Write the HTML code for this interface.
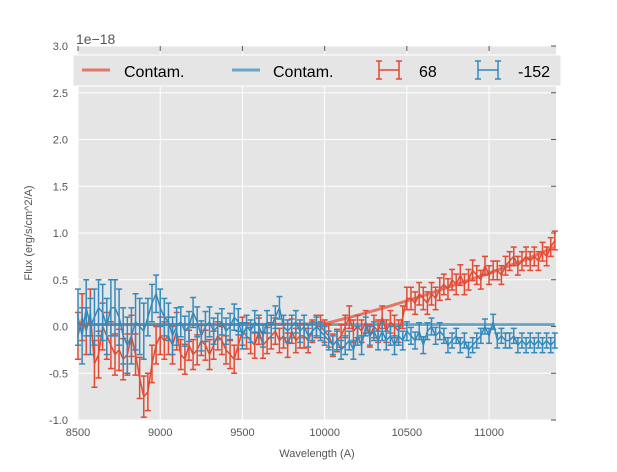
<!DOCTYPE html>
<html><head><meta charset="utf-8"><style>
body{margin:0;background:#fff;font-family:"Liberation Sans",sans-serif}
</style></head><body>
<svg id="c" width="617" height="467" xmlns="http://www.w3.org/2000/svg" font-family="Liberation Sans, sans-serif"></svg>
<script>
const xTicks=[8500,9000,9500,10000,10500,11000];
const yTicks=[-1.0,-0.5,0.0,0.5,1.0,1.5,2.0,2.5,3.0];
const redFlux=[-0.1,0.1,-0.05,0.15,-0.4,-0.3,0.0,-0.1,-0.2,
-0.3,-0.25,-0.35,-0.3,-0.1,-0.3,-0.55,-0.75,
-0.7,-0.4,-0.2,-0.1,-0.15,-0.1,-0.2,-0.05,
-0.3,-0.35,-0.2,-0.3,-0.25,-0.15,-0.2,-0.3,
-0.2,-0.1,-0.15,-0.25,-0.3,-0.35,-0.2,-0.05,
-0.1,-0.15,-0.2,-0.05,-0.2,-0.15,-0.1,-0.05,
-0.15,-0.1,-0.2,-0.05,-0.15,-0.1,-0.1,-0.15,
-0.05,0.0,0.0,-0.05,-0.1,-0.2,-0.15,-0.1,
0.0,0.1,-0.05,0.0,-0.05,0.05,-0.1,0.0,
-0.05,0.1,-0.05,0.05,0.0,-0.05,0.1,0.3,
0.3,0.25,0.35,0.3,0.25,0.35,0.3,0.4,
0.45,0.4,0.5,0.45,0.55,0.45,0.5,0.6,
0.55,0.5,0.65,0.55,0.6,0.6,0.55,0.65,
0.7,0.75,0.65,0.7,0.75,0.7,0.75,0.7,
0.8,0.75,0.85,0.92];
const blueFlux=[0.1,-0.1,0.2,0.0,0.1,0.2,0.15,0.0,0.2,
0.2,0.1,-0.1,-0.2,-0.1,0.05,0.0,-0.05,
0.1,0.25,0.35,0.2,0.1,0.05,-0.1,0.0,
0.05,-0.05,0.0,0.15,0.05,-0.1,0.0,0.05,
-0.05,0.0,0.05,-0.05,0.0,0.1,0.05,-0.1,
0.0,-0.05,0.05,0.0,-0.1,0.05,0.0,0.1,
0.2,0.0,-0.05,0.0,0.05,-0.05,0.0,-0.1,
-0.05,0.0,-0.05,-0.1,-0.15,-0.2,-0.15,-0.25,
-0.2,-0.15,-0.25,-0.1,-0.2,0.0,-0.1,-0.05,
-0.15,-0.05,-0.15,-0.1,-0.2,-0.1,-0.15,-0.05,
-0.1,-0.15,-0.05,-0.2,-0.05,0.0,-0.1,-0.05,
-0.1,-0.2,-0.15,-0.1,-0.2,-0.15,-0.25,-0.2,
-0.15,-0.1,0.0,-0.1,0.05,-0.15,-0.1,-0.15,
-0.15,-0.1,-0.2,-0.15,-0.2,-0.15,-0.2,-0.15,
-0.2,-0.15,-0.2,-0.15];
const redErrBySeg=[0.25,0.22,0.2,0.16,0.15,0.14,0.13,0.12,0.12,0.12,0.12,0.11,0.1,0.1,0.1];
const blueErrBySeg=[0.3,0.3,0.2,0.16,0.14,0.12,0.12,0.1,0.1,0.1,0.09,0.08,0.08,0.08,0.08];
const contamWave=[8500,9000,9500,10000,10200,10400,10600,10800,11000,11200,11400];
const redContam=[0.02,0.02,0.02,0.03,0.12,0.22,0.33,0.45,0.57,0.7,0.85];
const blueContam=[0.02,0.02,0.02,0.02,0.02,0.02,0.02,0.02,0.02,0.02,0.02];
const waveStart=8500, waveStep=25;

const L=78,R=556,T=46,B=420;
const X=w=>L+(w-8500)*(R-L)/2907;
const Y=v=>B-(v+1)*(B-T)/4;
const NS="http://www.w3.org/2000/svg";
const svg=document.getElementById('c');
function mk(t,a,p){const e=document.createElementNS(NS,t);for(const k in a)e.setAttribute(k,a[k]);(p||svg).appendChild(e);return e;}
const bg=mk('rect',{x:L,y:T,width:R-L,height:B-T,fill:'#e5e5e5'});


xTicks.forEach(t=>{const l=mk('line',{x1:X(t),x2:X(t),y1:T,y2:B,stroke:'#fff','stroke-width':1});


const tx=mk('text',{x:X(t),y:B+16,'text-anchor':'middle','font-size':11,fill:'#555'});tx.textContent=t;

});
yTicks.forEach(t=>{const l=mk('line',{x1:L,x2:R,y1:Y(t),y2:Y(t),stroke:'#fff','stroke-width':1});


mk('line',{x1:R-5,x2:R,y1:Y(t),y2:Y(t),stroke:'#555'});
const tx=mk('text',{x:L-10,y:Y(t)+4,'text-anchor':'end','font-size':11,fill:'#555'});tx.textContent=t.toFixed(1);

});
xTicks.forEach(t=>{mk('line',{x1:X(t),x2:X(t),y1:T,y2:T+5,stroke:'#555'});});
function contam(vals,col,name){const p=mk('polyline',{points:contamWave.map((w,i)=>X(w)+','+Y(vals[i])).join(' '),fill:'none',stroke:col,'stroke-width':3,'stroke-opacity':0.7});

}
contam(redContam,'#E24A33','contam-line-68');
contam(blueContam,'#348ABD','contam-line-152');
function series(vals,errs,col,name){const g=mk('g',{});


const pts=[];vals.forEach((v,i)=>{const w=waveStart+i*waveStep;const seg=i<9?0:Math.floor((i-9)/8)+1;const e=errs[Math.min(seg,errs.length-1)];
const x=X(w);pts.push(x+','+Y(v));
mk('line',{x1:x,x2:x,y1:Y(v-e),y2:Y(v+e),stroke:col,'stroke-width':1.5},g);
mk('line',{x1:x-3,x2:x+3,y1:Y(v-e),y2:Y(v-e),stroke:col,'stroke-width':1.5},g);
mk('line',{x1:x-3,x2:x+3,y1:Y(v+e),y2:Y(v+e),stroke:col,'stroke-width':1.5},g);});
mk('polyline',{points:pts.join(' '),fill:'none',stroke:col,'stroke-width':1.5},g);}
series(redFlux,redErrBySeg,'#E24A33','series-68');
series(blueFlux,blueErrBySeg,'#348ABD','series-152');
// legend
const lg=mk('g',{});


mk('rect',{x:73,y:55,width:488,height:31,fill:'#e5e5e5',stroke:'#fff','stroke-width':1},lg);
function lt(x,s){const t=mk('text',{x:x,y:77,'font-size':16,fill:'#000'},lg);t.textContent=s;return t;}
mk('line',{x1:82,x2:110,y1:70,y2:70,stroke:'#E24A33','stroke-width':3,'stroke-opacity':0.7},lg);
lt(124,'Contam.');
mk('line',{x1:232,x2:260,y1:70,y2:70,stroke:'#348ABD','stroke-width':3,'stroke-opacity':0.7},lg);
lt(273,'Contam.');
function ebIcon(x,col){
mk('line',{x1:x+3,x2:x+23,y1:70,y2:70,stroke:col,'stroke-width':1.5},lg);
mk('line',{x1:x+3,x2:x+3,y1:61,y2:79,stroke:col,'stroke-width':1.5},lg);
mk('line',{x1:x+23,x2:x+23,y1:61,y2:79,stroke:col,'stroke-width':1.5},lg);
[x+3,x+23].forEach(cx=>{
mk('line',{x1:cx-3,x2:cx+3,y1:61,y2:61,stroke:col,'stroke-width':1.5},lg);
mk('line',{x1:cx-3,x2:cx+3,y1:79,y2:79,stroke:col,'stroke-width':1.5},lg);});}
ebIcon(376,'#E24A33');lt(419,'68');
ebIcon(475,'#348ABD');lt(518,'-152');
const ex=mk('text',{x:76,y:44,'font-size':14,fill:'#555'});ex.textContent='1e\u221218';


const xl=mk('text',{x:317,y:457,'text-anchor':'middle','font-size':11,fill:'#555'});xl.textContent='Wavelength (A)';


const yl=mk('text',{x:32,y:233,'text-anchor':'middle','font-size':11,fill:'#555',transform:'rotate(-90 32 233)'});yl.textContent='Flux (erg/s/cm^2/A)';


</script>
</body></html>
